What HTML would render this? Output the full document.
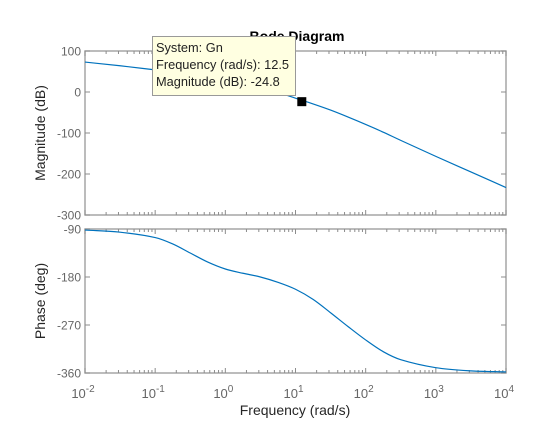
<!DOCTYPE html>
<html><head><meta charset="utf-8"><style>
body{margin:0;background:#fff;width:560px;height:420px;overflow:hidden}
svg{font-family:"Liberation Sans",Arial,sans-serif}
</style></head><body>
<svg id="c" width="560" height="420"></svg>
<script>
const freqs=[0.01,0.0316,0.1,0.178,0.316,0.562,1,1.78,3.16,5.62,10,17.8,31.6,56.2,100,178,316,1000,3162,10000];
const magDb=[73,64,54,49,43,37,29,21,11,-1,-15,-29,-44,-61,-79,-98,-118,-157,-195,-233];
const phaseDeg=[-92,-96,-106,-118,-135,-152,-165,-173,-180,-190,-203,-222,-247,-273,-298,-320,-335,-350,-356,-358];
const xDecades=[-2,-1,0,1,2,3,4];
const magTicks=[100,0,-100,-200,-300];
const phaseTicks=[-90,-180,-270,-360];
const marker={w:12.5,mag:-24.8};

const NS="http://www.w3.org/2000/svg";
const svg=document.getElementById('c');
const X0=85,X1=506;
const xs=w=>X0+(Math.log10(w)+2)/6*(X1-X0);
const M={top:51,bot:215,max:100,min:-300};
const P={top:229,bot:373,max:-90,min:-360};
const ym=v=>M.top+(M.max-v)/(M.max-M.min)*(M.bot-M.top);
const yp=v=>P.top+(P.max-v)/(P.max-P.min)*(P.bot-P.top);
function el(t,a,txt){const e=document.createElementNS(NS,t);for(const k in a)e.setAttribute(k,a[k]);if(txt!=null)e.textContent=txt;svg.appendChild(e);return e;}

function axes(A,ticks,yf,name){
  const g=el('rect',{x:X0,y:A.top,width:X1-X0,height:A.bot-A.top,fill:'#fff',stroke:'#a6a6a6','stroke-width':1.5});
  
  
  let d='';
  for(let dec=-2;dec<4;dec++){for(let m=1;m<10;m++){const x=xs(m*Math.pow(10,dec));const L=m==1?5:3;d+=`M${x},${A.bot}v${-L}M${x},${A.top}v${L}`;}}
  d+=`M${X1},${A.bot}v-5M${X1},${A.top}v5`;
  ticks.forEach(t=>{const y=yf(t);d+=`M${X0},${y}h5M${X1},${y}h-5`;});
  const p=el('path',{d:d,stroke:'#8c8c8c','stroke-width':1,fill:'none'});
  
  
  ticks.forEach(t=>{const tx=el('text',{x:X0-4,y:yf(t)+4.5,'text-anchor':'end','font-size':12,fill:'#666'},String(t));
    
    });
}
axes(M,magTicks,ym,'magnitude');
axes(P,phaseTicks,yp,'phase');

function smooth(vals,yf,name){
  const pts=freqs.map((w,i)=>[xs(w),yf(vals[i])]);
  let d=`M${pts[0][0]},${pts[0][1]}`;
  for(let i=0;i<pts.length-1;i++){const p0=pts[Math.max(0,i-1)],p1=pts[i],p2=pts[i+1],p3=pts[Math.min(pts.length-1,i+2)];
    const h=p2[0]-p1[0];
    const s1=(p2[1]-p0[1])/(p2[0]-p0[0]||1), s2=(p3[1]-p1[1])/(p3[0]-p1[0]||1);
    d+=`C${p1[0]+h/3},${p1[1]+s1*h/3} ${p2[0]-h/3},${p2[1]-s2*h/3} ${p2[0]},${p2[1]}`;}
  const p=el('path',{d:d,stroke:'#0072bd','stroke-width':1.2,fill:'none'});
  
  
}
smooth(magDb,ym,'magnitude-line');
smooth(phaseDeg,yp,'phase-line');

xDecades.forEach(e=>{const t=el('text',{x:xs(Math.pow(10,e))-2,y:398,'text-anchor':'middle','font-size':13,fill:'#666'});
  
  
  t.innerHTML=`10<tspan dy="-6" font-size="10">${e}</tspan>`;});

let t=el('text',{x:297,y:41,'text-anchor':'middle','font-size':14,'font-weight':'bold',fill:'#000'},'Bode Diagram');

t=el('text',{x:295,y:415,'text-anchor':'middle','font-size':14,fill:'#262626'},'Frequency  (rad/s)');

t=el('text',{x:0,y:0,'text-anchor':'middle','font-size':14,fill:'#262626',transform:`translate(45,${(M.top+M.bot)/2}) rotate(-90)`},'Magnitude (dB)');

t=el('text',{x:0,y:0,'text-anchor':'middle','font-size':14,fill:'#262626',transform:`translate(45,${(P.top+P.bot)/2}) rotate(-90)`},'Phase (deg)');


const mx=xs(marker.w),my=ym(marker.mag);
let r=el('rect',{x:mx-5,y:my-5,width:9,height:9,fill:'#000'});

r=el('rect',{x:152.5,y:36.5,width:143,height:59,fill:'#ffffe1',stroke:'#999','stroke-width':1});

['System: Gn','Frequency (rad/s): '+marker.w,'Magnitude (dB): '+marker.mag].forEach((s,i)=>{
  const tt=el('text',{x:156,y:52+i*17,'font-size':12.8,fill:'#222'},s);
  
  
});
</script>
</body></html>
